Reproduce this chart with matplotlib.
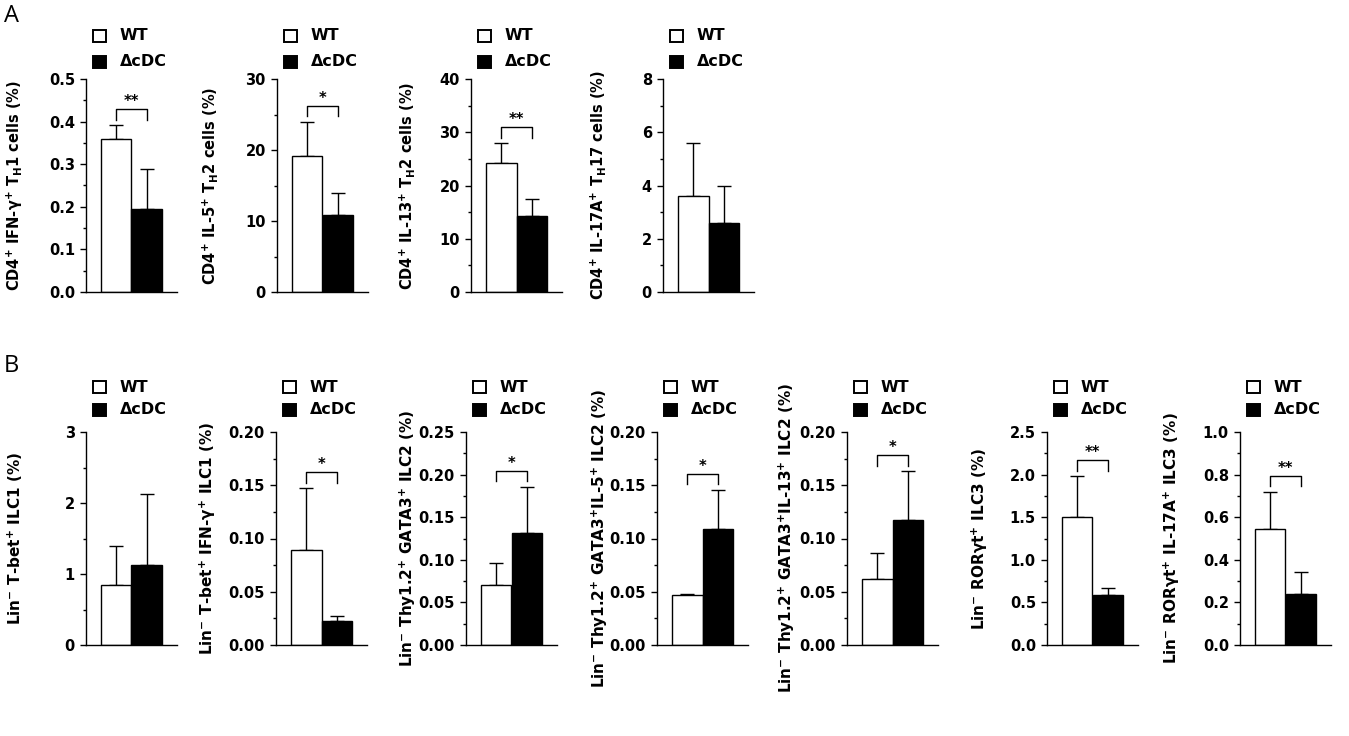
import matplotlib
matplotlib.use("Agg")
import matplotlib.pyplot as plt
from matplotlib.patches import Rectangle
from matplotlib.ticker import MultipleLocator

plt.rcParams['font.family'] = ['DejaVu Sans']
plt.rcParams['font.weight'] = 'bold'
plt.rcParams['mathtext.fontset'] = 'custom'
plt.rcParams['mathtext.rm'] = 'DejaVu Sans:bold'
plt.rcParams['mathtext.it'] = 'DejaVu Sans:bold'
plt.rcParams['mathtext.bf'] = 'DejaVu Sans:bold'

# ---- data ----
groups = ['WT', 'ΔcDC']

labels_a = ['CD4$^{+}$ IFN-γ$^{+}$ T$_{H}$1 cells (%)',
            'CD4$^{+}$ IL-5$^{+}$ T$_{H}$2 cells (%)',
            'CD4$^{+}$ IL-13$^{+}$ T$_{H}$2 cells (%)',
            'CD4$^{+}$ IL-17A$^{+}$ T$_{H}$17 cells (%)']
wt_a = [0.358, 19.1, 24.2, 3.6]
wt_err_a = [0.034, 4.9, 3.8, 2.0]
cdc_a = [0.196, 10.8, 14.2, 2.6]
cdc_err_a = [0.092, 3.2, 3.2, 1.4]
ymax_a = [0.5, 30, 40, 8]
ystep_a = [0.1, 10, 10, 2]
yfmt_a = ['%.1f', '%d', '%d', '%d']
sig_a = ['**', '*', '**', '']

labels_b = ['Lin$^{-}$ T-bet$^{+}$ ILC1 (%)',
            'Lin$^{-}$ T-bet$^{+}$ IFN-γ$^{+}$ ILC1 (%)',
            'Lin$^{-}$ Thy1.2$^{+}$ GATA3$^{+}$ ILC2 (%)',
            'Lin$^{-}$ Thy1.2$^{+}$ GATA3$^{+}$IL-5$^{+}$ ILC2 (%)',
            'Lin$^{-}$ Thy1.2$^{+}$ GATA3$^{+}$IL-13$^{+}$ ILC2 (%)',
            'Lin$^{-}$ RORγt$^{+}$ ILC3 (%)',
            'Lin$^{-}$ RORγt$^{+}$ IL-17A$^{+}$ ILC3 (%)']
wt_b = [0.85, 0.089, 0.071, 0.047, 0.062, 1.50, 0.545]
wt_err_b = [0.55, 0.058, 0.025, 0.001, 0.024, 0.48, 0.175]
cdc_b = [1.13, 0.023, 0.132, 0.109, 0.117, 0.59, 0.24]
cdc_err_b = [0.99, 0.004, 0.054, 0.037, 0.046, 0.08, 0.105]
ymax_b = [3, 0.20, 0.25, 0.20, 0.20, 2.5, 1.0]
ystep_b = [1, 0.05, 0.05, 0.05, 0.05, 0.5, 0.2]
yfmt_b = ['%d', '%.2f', '%.2f', '%.2f', '%.2f', '%.1f', '%.1f']
sig_b = ['', '*', '*', '*', '*', '**', '**']

# ---- layout (pixels) ----
W, H = 1349, 736
fig = plt.figure(figsize=(W / 100, H / 100), dpi=100)

rows = [
    dict(lefts=[86, 277, 471, 663], zero=292, top=79, lab_off=[61, 57, 54, 55],
         labels=labels_a, wt=wt_a, wt_err=wt_err_a, cdc=cdc_a, cdc_err=cdc_err_a,
         ymax=ymax_a, step=ystep_a, fmt=yfmt_a, sig=sig_a, leg=(43, 17), labsize=10.5),
    dict(lefts=[86, 276, 466, 657, 847, 1047, 1240], zero=645, top=432,
         lab_off=[61, 58, 48, 47, 50, 57, 58],
         labels=labels_b, wt=wt_b, wt_err=wt_err_b, cdc=cdc_b, cdc_err=cdc_err_b,
         ymax=ymax_b, step=ystep_b, fmt=yfmt_b, sig=sig_b, leg=(45, 22), labsize=11),
]
axw = 91


def px(x, y):
    return x / W, 1 - y / H


for r in rows:
    for i, left in enumerate(r['lefts']):
        h = r['zero'] - r['top']
        ax = fig.add_axes([left / W, 1 - r['zero'] / H, axw / W, h / H])
        vals = [r['wt'][i], r['cdc'][i]]
        errs = [r['wt_err'][i], r['cdc_err'][i]]
        ax.errorbar([0, 1], vals, yerr=[[0, 0], errs], fmt='none', ecolor='black',
                    elinewidth=1.0, capsize=5, capthick=1.0, zorder=1)
        ax.bar([0, 1], vals, width=1.0, color=['white', 'black'], edgecolor='black',
               linewidth=1.0, zorder=2)
        ymax = r['ymax'][i]
        ax.set_xlim(-1, 2)
        ax.set_ylim(0, ymax)
        ax.yaxis.set_major_locator(MultipleLocator(r['step'][i]))
        ax.yaxis.set_minor_locator(MultipleLocator(r['step'][i] / 2))
        ax.yaxis.set_major_formatter(plt.FormatStrFormatter(r['fmt'][i]))
        ax.set_xticks([])
        for s in ['top', 'right']:
            ax.spines[s].set_visible(False)
        for s in ['left', 'bottom']:
            ax.spines[s].set_linewidth(1.0)
        ax.tick_params(axis='y', which='major', direction='out', length=4.5, width=1.0,
                       labelsize=10.5, pad=3.5)
        ax.tick_params(axis='y', which='minor', direction='out', length=2.5, width=1.0)
        ax.set_ylabel(r['labels'][i], fontsize=r['labsize'], fontweight='bold')
        ax.yaxis.set_label_coords(-r['lab_off'][i] / axw, 0.5)
        ax.patch.set_visible(False)

        if r['sig'][i]:
            top = max(v + e for v, e in zip(vals, errs))
            yb = top + 0.075 * ymax
            leg = 0.05 * ymax
            ax.plot([0, 0, 1, 1], [yb - leg, yb, yb, yb - leg], color='black',
                    lw=1.0, clip_on=False)
            ax.annotate(r['sig'][i], (0.5, yb), xytext=(0, 0), textcoords='offset points',
                        ha='center', va='bottom', fontsize=10.5, fontweight='bold')

        # legend
        for k, (g, c) in enumerate(zip(groups, ['white', 'black'])):
            yc = r['top'] - r['leg'][k]
            x0, y0 = px(left + 7, yc + 6)
            fig.patches.append(Rectangle((x0, y0), 13 / W, 12 / H, facecolor=c,
                                         edgecolor='black', lw=1.4,
                                         transform=fig.transFigure))
            tx, ty = px(left + 34, yc)
            fig.text(tx, ty, g, ha='left', va='center', fontsize=11.5, fontweight='bold')

fig.text(*px(4, 16), 'A', fontsize=17, fontweight='normal', family='Open Sans',
         ha='left', va='center')
fig.text(*px(4, 366), 'B', fontsize=17, fontweight='normal', family='Open Sans',
         ha='left', va='center')

fig.savefig('out.png', dpi=100)
